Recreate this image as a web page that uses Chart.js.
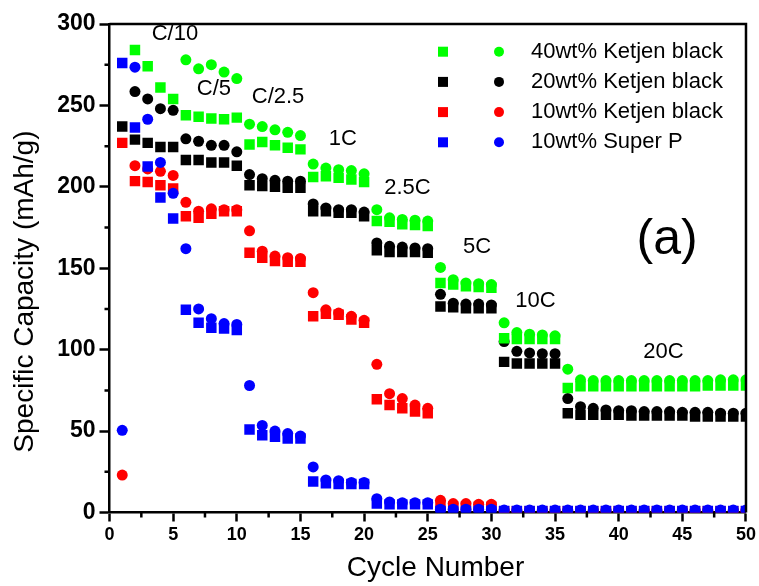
<!DOCTYPE html>
<html>
<head>
<meta charset="utf-8">
<script src="https://cdn.jsdelivr.net/npm/chart.js@4.4.1/dist/chart.umd.min.js"></script>
<style>
  html, body { margin: 0; padding: 0; background: #fff; }
</style>
</head>
<body>
<canvas id="rateChart" width="759" height="586"></canvas>
<script>
// cycle numbers on the x axis
const cycles = [1, 2, 3, 4, 5, 6, 7, 8, 9, 10, 11, 12, 13, 14, 15, 16, 17, 18, 19, 20,
  21, 22, 23, 24, 25, 26, 27, 28, 29, 30, 31, 32, 33, 34, 35, 36, 37, 38, 39, 40,
  41, 42, 43, 44, 45, 46, 47, 48, 49, 50];

// 40wt% Ketjen black
const green40Sq = [null, 284, 274, 261, 254, 244, 243, 242, 241.5, 242.5, 226, 227.5, 225.5, 224, 223,
  206, 206.5, 205.5, 204.5, 203, 179, 178.5, 177, 176.5, 176, 141, 140, 139, 138.5, 138,
  107, 106.5, 106.5, 106.5, 106.5, 76.5, 77.5, 77.5, 77.5, 77.5, 77.5, 77.5, 77.5, 77.5, 77.5,
  77.5, 78, 78, 78, 78];
const green40Ci = [null, null, null, null, null, 278, 272.5, 275, 270.5, 266.5, 238.5, 237, 235, 233.5, 231.5,
  214, 211.5, 210.5, 210, 208, 186, 181, 180, 179.5, 179, 150.5, 143, 141, 140.5, 140,
  116.5, 110.5, 109.5, 109, 108.5, 88, 81.5, 81, 81, 81, 81, 81, 81, 81, 81,
  81, 81, 81.5, 81.5, 81.5];

// 20wt% Ketjen black
const black20Sq = [237, 229, 227, 224.5, 224.5, 216.5, 216.5, 215, 215, 213, 201, 200.5, 200, 199.5, 199.5,
  185, 185, 184, 184, 182, 161, 160, 160, 160, 159.5, 126.5, 126, 125.5, 125.5, 125.5,
  92.5, 91.5, 91.5, 91.5, 91.5, 61, 60, 60, 60, 60, 59.5, 59.5, 59.5, 59.5, 59.5,
  59, 59, 59, 59, 59];
const black20Ci = [null, 258.5, 254, 248, 247, 229.5, 228, 225.5, 225.5, 221.5, 207.5, 205, 204, 203.5, 203.5,
  189.5, 187, 186, 186, 184.5, 165.5, 163.5, 163, 162.5, 162, 134, 128.5, 128, 128, 127.5,
  105, 99, 98, 97.5, 97.5, 70, 65, 64, 63, 62.5, 62.5, 62, 62, 62, 61.5,
  61.5, 61.5, 61, 61, 61];

// 10wt% Ketjen black
const red10Sq = [227, 203.5, 203, 201, 199, 182, 181, 183.5, 185, 185, 159.5, 156.5, 154.5, 154, 154,
  120.5, 122, 121.5, 118.5, 116.5, 69.5, 66, 64, 62, 61, 4, 3.5, 3.5, 3.5, 3.5,
  0.8, 0.8, 0.8, 0.8, 0.8, 0.8, 0.8, 0.8, 0.8, 0.8, 0.8, 0.8, 0.8, 0.8, 0.8,
  0.8, 0.8, 0.8, 0.8, 0.8];
const red10Ci = [23, 213, 211, 209.5, 207, 190.5, 185, 186.5, 186, 186, 173, 160.5, 157.5, 156.5, 156,
  135, 124.5, 122.5, 120.5, 118, 91, 73, 70, 66, 64, 7.5, 5.5, 5.5, 5, 5,
  1, 1, 1, 1, 1, 1, 1, 1, 1, 1, 1, 1, 1, 1, 1,
  1, 1, 1, 1, 1];

// 10wt% Super P
const blueSpSq = [276, 236.5, 212.5, 193.5, 180.5, 124.5, 116.5, 113.5, 113, 112, 51, 47.5, 46.5, 45.5, 45.5,
  19, 18, 17.5, 17.5, 17.5, 5.5, 5, 5, 5, 5, 1, 1, 1, 1, 1,
  1, 1, 1, 1, 1, 1, 1, 1, 1, 1, 1, 1, 1, 1, 1,
  1, 1, 1, 1, 1];
const blueSpCi = [50.5, 273.5, 241.5, 215, 196, 162, 125, 119, 116, 115.5, 78, 53.5, 50, 48.5, 47,
  28, 20, 19.5, 18.5, 18.5, 8.5, 6.5, 6, 6, 6, 2, 2, 2, 2, 2,
  1.5, 1.5, 1.5, 1.5, 1.5, 1.5, 1.5, 1.5, 1.5, 1.5, 1.5, 1.5, 1.5, 1.5, 1.5,
  1.5, 1.5, 1.5, 1.5, 1.5];

const legendNames = ['40wt% Ketjen black', '20wt% Ketjen black', '10wt% Ketjen black', '10wt% Super P'];
const legendColors = ['#00ff00', '#000000', '#ff0000', '#0000ff'];

// C-rate labels, placed at (cycle, capacity)
const rateNames = ['C/10', 'C/5', 'C/2.5', '1C', '2.5C', '5C', '10C', '20C'];
const rateSpots = [[5.14, 294], [8.2, 260.3], [13.24, 255.2], [18.33, 229.4],
  [23.41, 199.3], [28.87, 162.8], [33.46, 129.9], [43.52, 98.6]];

Chart.defaults.font.family = "'Liberation Sans', Arial, sans-serif";
Chart.defaults.color = '#000';

const toPoints = (vals) => cycles.map((c, i) => ({ x: c, y: vals[i] }));

let series = (label, vals, color, shape) => {
  return {
    label: label,
    data: toPoints(vals),
    showLine: false,
    pointStyle: shape,
    pointRadius: shape === 'rect' ? 7.4 : 5.5,
    pointHoverRadius: shape === 'rect' ? 7.4 : 5.5,
    pointBackgroundColor: color,
    pointBorderColor: color,
    pointBorderWidth: 0,
  };
};

// drawn back to front: first dataset ends up on top
const datasets = [
  series('10wt% Super P', blueSpCi, '#0000ff', 'circle'),
  series('10wt% Super P', blueSpSq, '#0000ff', 'rect'),
  series('40wt% Ketjen black', green40Sq, '#00ff00', 'rect'),
  series('40wt% Ketjen black', green40Ci, '#00ff00', 'circle'),
  series('20wt% Ketjen black', black20Sq, '#000000', 'rect'),
  series('20wt% Ketjen black', black20Ci, '#000000', 'circle'),
  series('10wt% Ketjen black', red10Ci, '#ff0000', 'circle'),
  series('10wt% Ketjen black', red10Sq, '#ff0000', 'rect'),
];

const extras = {
  id: 'extras',
  afterDraw(chart) {
    const { ctx, chartArea: a, scales: { x, y } } = chart;
    ctx.save();
    ctx.strokeStyle = '#000';
    ctx.lineWidth = 2.5;
    // minor ticks
    ctx.beginPath();
    for (let v = 2.5; v < 50; v += 5) {
      const px = x.getPixelForValue(v);
      ctx.moveTo(px, a.bottom);
      ctx.lineTo(px, a.bottom + 5);
    }
    for (let v = 25; v < 300; v += 50) {
      const py = y.getPixelForValue(v);
      ctx.moveTo(a.left, py);
      ctx.lineTo(a.left - 5, py);
    }
    ctx.stroke();
    // top and right frame
    ctx.beginPath();
    ctx.moveTo(a.left, a.top);
    ctx.lineTo(a.right, a.top);
    ctx.lineTo(a.right, a.bottom);
    ctx.stroke();

    // rate labels
    ctx.fillStyle = '#000';
    ctx.textAlign = 'center';
    ctx.textBaseline = 'middle';
    ctx.font = "22px 'Liberation Sans', Arial, sans-serif";
    rateNames.forEach((name, i) => {
      ctx.fillText(name, x.getPixelForValue(rateSpots[i][0]), y.getPixelForValue(rateSpots[i][1]));
    });
    ctx.font = "50px 'Liberation Sans', Arial, sans-serif";
    ctx.fillText('(a)', x.getPixelForValue(43.8), y.getPixelForValue(167.4));

    // legend: square + circle per material
    ctx.font = "22px 'Liberation Sans', Arial, sans-serif";
    ctx.textAlign = 'left';
    legendNames.forEach((name, i) => {
      const ly = a.top + 27.7 + i * 30.2;
      ctx.fillStyle = legendColors[i];
      ctx.fillRect(a.left + 328.5, ly - 5, 10, 10);
      ctx.beginPath();
      ctx.arc(a.left + 389.5, ly, 5, 0, Math.PI * 2);
      ctx.fill();
      ctx.fillStyle = '#000';
      ctx.fillText(name, a.left + 421.5, ly);
    });
    ctx.restore();
  },
};

new Chart(document.getElementById('rateChart'), {
  type: 'scatter',
  data: { datasets: datasets },
  options: {
    responsive: false,
    animation: false,
    layout: { padding: { top: 24, right: 13, left: 0, bottom: 0 } },
    plugins: {
      legend: { display: false },
      tooltip: { enabled: false },
    },
    scales: {
      x: {
        type: 'linear',
        min: 0,
        max: 50,
        afterFit: (scale) => { scale.height = 73.5; },
        ticks: {
          stepSize: 5,
          padding: 3,
          color: '#000',
          font: { size: 18, weight: 'bold' },
        },
        grid: { drawOnChartArea: false, tickLength: 9, tickWidth: 2.5, tickColor: '#000' },
        border: { color: '#000', width: 2.5 },
        title: {
          display: true,
          text: '  Cycle Number',
          color: '#000',
          font: { size: 28 },
          padding: { top: 0, bottom: 1 },
        },
      },
      y: {
        min: 0,
        max: 300,
        afterFit: (scale) => { scale.width = 109.5; },
        ticks: {
          stepSize: 50,
          padding: 4,
          color: '#000',
          font: { size: 23, weight: 'bold' },
        },
        grid: { drawOnChartArea: false, tickLength: 10, tickWidth: 2.5, tickColor: '#000' },
        border: { color: '#000', width: 2.5 },
        title: {
          display: true,
          text: 'Specific Capacity (mAh/g)      ',
          color: '#000',
          font: { size: 28 },
          padding: { top: 8, bottom: 0 },
        },
      },
    },
  },
  plugins: [extras],
});
</script>
</body>
</html>
